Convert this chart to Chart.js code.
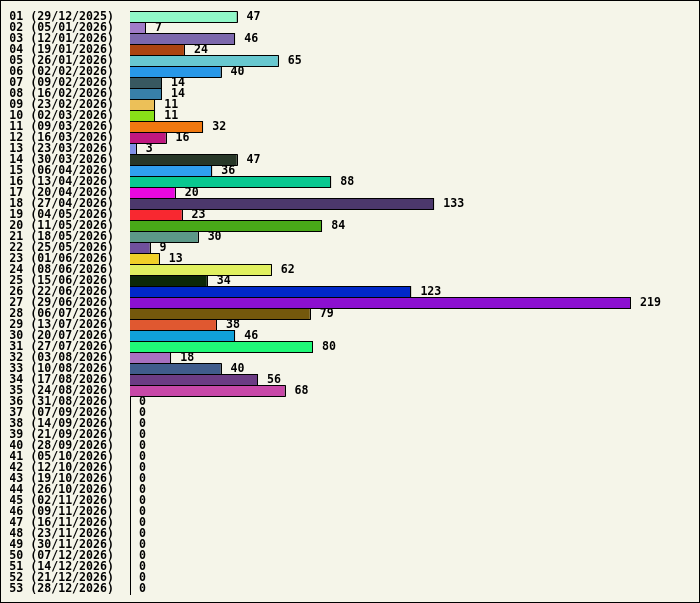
<!DOCTYPE html>
<html>
<head>
<meta charset="utf-8">
<title>weeks</title>
<script src="https://cdn.jsdelivr.net/npm/chart.js"></script>
<style>
  html, body { margin: 0; padding: 0; background: #f5f5e9; }
  canvas { display: block; }
</style>
</head>
<body>
<canvas id="myChart" width="700" height="603"></canvas>
<script>
// week labels
const weeks = [
  '01 (29/12/2025)', '02 (05/01/2026)', '03 (12/01/2026)', '04 (19/01/2026)', '05 (26/01/2026)',
  '06 (02/02/2026)', '07 (09/02/2026)', '08 (16/02/2026)', '09 (23/02/2026)', '10 (02/03/2026)',
  '11 (09/03/2026)', '12 (16/03/2026)', '13 (23/03/2026)', '14 (30/03/2026)', '15 (06/04/2026)',
  '16 (13/04/2026)', '17 (20/04/2026)', '18 (27/04/2026)', '19 (04/05/2026)', '20 (11/05/2026)',
  '21 (18/05/2026)', '22 (25/05/2026)', '23 (01/06/2026)', '24 (08/06/2026)', '25 (15/06/2026)',
  '26 (22/06/2026)', '27 (29/06/2026)', '28 (06/07/2026)', '29 (13/07/2026)', '30 (20/07/2026)',
  '31 (27/07/2026)', '32 (03/08/2026)', '33 (10/08/2026)', '34 (17/08/2026)', '35 (24/08/2026)',
  '36 (31/08/2026)', '37 (07/09/2026)', '38 (14/09/2026)', '39 (21/09/2026)', '40 (28/09/2026)',
  '41 (05/10/2026)', '42 (12/10/2026)', '43 (19/10/2026)', '44 (26/10/2026)', '45 (02/11/2026)',
  '46 (09/11/2026)', '47 (16/11/2026)', '48 (23/11/2026)', '49 (30/11/2026)', '50 (07/12/2026)',
  '51 (14/12/2026)', '52 (21/12/2026)', '53 (28/12/2026)'
];

// counts per week
const counts = [
  47, 7, 46, 24, 65, 40, 14, 14, 11, 11,
  32, 16, 3, 47, 36, 88, 20, 133, 23, 84,
  30, 9, 13, 62, 34, 123, 219, 79, 38, 46,
  80, 18, 40, 56, 68, 0, 0, 0, 0, 0,
  0, 0, 0, 0, 0, 0, 0, 0, 0, 0,
  0, 0, 0
];

// one colour per bar
const barColors = [
  '#90f8c8', '#a07cc8', '#7c68ac', '#ac4410', '#68c8d0', '#2898e8', '#385860', '#3880a8',
  '#ecc058', '#88e018', '#f07810', '#c01880', '#8090e8', '#283828', '#30a0f0', '#08c890',
  '#e808e0', '#4c386c', '#f82830', '#48a818', '#5c9888', '#70509c', '#f0d028', '#e0f060',
  '#0c2808', '#0028c8', '#8c10d0', '#74580c', '#e05830', '#10a0d8', '#20f878', '#a870c0',
  '#405c8c', '#6c3c84', '#c848a8'
];

const monoFont = { family: '"DejaVu Sans Mono", monospace', size: 11.6, weight: 'bold' };

// background + frame
const framePlugin = {
  id: 'frame',
  beforeDraw(chart) {
    const c = chart.ctx;
    c.save();
    c.fillStyle = '#f5f5e9';
    c.fillRect(0, 0, chart.width, chart.height);
    c.strokeStyle = '#000';
    c.lineWidth = 1;
    c.strokeRect(0.5, 0.5, chart.width - 1, chart.height - 1);
    c.restore();
  }
};

// crisp black outline on every bar + value after it
const valuePlugin = {
  id: 'values',
  afterDatasetsDraw(chart) {
    const c = chart.ctx;
    const meta = chart.getDatasetMeta(0);
    c.save();
    c.strokeStyle = '#000';
    c.lineWidth = 1;
    meta.data.forEach(bar => {
      const p = bar.getProps(['x', 'y', 'base', 'height']);
      if (p.x - p.base < 1) return;
      const t = Math.round(p.y - p.height / 2);
      const b = Math.round(p.y + p.height / 2);
      const r = Math.round(p.x);
      const l = Math.round(p.base);
      c.beginPath();
      c.moveTo(l, t + 0.5);
      c.lineTo(r - 0.5, t + 0.5);
      c.lineTo(r - 0.5, b - 0.5);
      c.lineTo(l, b - 0.5);
      c.stroke();
    });
    c.font = 'bold 11.6px "DejaVu Sans Mono", monospace';
    c.fillStyle = '#000';
    c.textAlign = 'left';
    c.textBaseline = 'middle';
    meta.data.forEach((bar, i) => {
      c.fillText(String(counts[i]), bar.x + 9, bar.y);
    });
    c.restore();
  }
};

const ctx = document.getElementById('myChart').getContext('2d');
const myChart = new Chart(ctx, {
  type: 'bar',
  data: {
    labels: weeks,
    datasets: [{
      data: counts,
      backgroundColor: weeks.map((w, i) => barColors[i] || '#000'),
      borderColor: '#000',
      borderWidth: { top: 1, bottom: 1, right: 1, left: 0 },
      borderSkipped: false,
      inflateAmount: 0,
      barPercentage: 12 / 11,
      categoryPercentage: 1
    }]
  },
  options: {
    indexAxis: 'y',
    responsive: false,
    devicePixelRatio: 1,
    animation: false,
    layout: { padding: { left: 10, right: 69, top: 11.5, bottom: 8.5 } },
    plugins: {
      legend: { display: false },
      tooltip: { enabled: false }
    },
    scales: {
      x: {
        display: false,
        min: 0,
        max: 219
      },
      y: {
        z: 1,
        afterFit: s => {
          s.width = 120;
          s.paddingTop = 0;
          s.paddingBottom = 0;
        },
        grid: { display: false, drawTicks: false },
        border: { display: true, color: '#000', width: 1 },
        ticks: {
          color: '#000',
          font: monoFont,
          padding: 16,
          autoSkip: false
        }
      }
    }
  },
  plugins: [framePlugin, valuePlugin]
});
</script>
</body>
</html>
